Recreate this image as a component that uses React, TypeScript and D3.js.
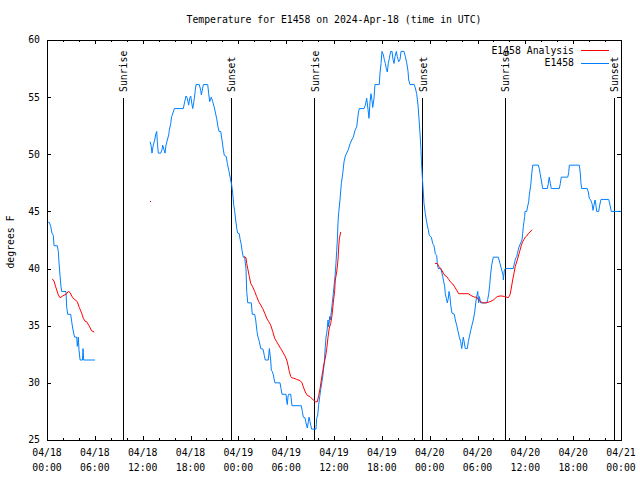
import React from 'react';
import * as d3 from 'd3';

const title = 'Temperature for E1458 on 2024-Apr-18 (time in UTC)';
const yAxisLabel = 'degrees F';
const xTickHours = [0, 6, 12, 18, 24, 30, 36, 42, 48, 54, 60, 66, 72];
const xTickDates = ['04/18', '04/18', '04/18', '04/18', '04/19', '04/19', '04/19', '04/19', '04/20', '04/20', '04/20', '04/20', '04/21'];
const xTickTimes = ['00:00', '06:00', '12:00', '18:00', '00:00', '06:00', '12:00', '18:00', '00:00', '06:00', '12:00', '18:00', '00:00'];
const yTicks = [25, 30, 35, 40, 45, 50, 55, 60];
const sunHours = [9.53, 23.08, 33.53, 47.08, 57.45, 71.12];
const sunLabels = ['Sunrise', 'Sunset', 'Sunrise', 'Sunset', 'Sunrise', 'Sunset'];
const seriesNames = ['E1458 Analysis', 'E1458'];
const seriesColors = ['#ff0000', '#0080ff'];

type P = [number, number];

// Observations (hours since 04/18 00:00 UTC, degrees F)
const obsSeg1: P[] = [
  [0.16, 44.05], [0.29, 44.05], [0.46, 43.7], [0.63, 43.1], [0.79, 42.9], [0.88, 42.0], [1.29, 42.0],
  [1.42, 41.5], [1.51, 40.5], [1.63, 39.4], [1.76, 38.4], [1.84, 38.0], [2.38, 38.0], [2.47, 36.6],
  [2.6, 36.0], [2.97, 36.0], [3.1, 35.35], [3.22, 34.8], [3.39, 34.2], [3.47, 34.0], [3.73, 34.0],
  [3.8, 33.2], [3.93, 34.0], [4.01, 32.9], [4.15, 32.0], [4.45, 32.0], [4.52, 33.0], [4.6, 32.0], [6.02, 32.0],
];

const obsSeg2: P[] = [
  [12.92, 51.1], [13.05, 50.8], [13.17, 50.1], [13.33, 50.8], [13.51, 51.25], [13.64, 51.75], [13.76, 52.0],
  [13.84, 51.1], [13.96, 50.1], [14.26, 50.1], [14.43, 50.4], [14.51, 50.8], [14.68, 50.4], [14.8, 50.1],
  [14.93, 50.8], [15.09, 51.25], [15.27, 51.7], [15.34, 52.1], [15.52, 52.7], [15.64, 53.3], [15.84, 53.7],
  [15.97, 54.0], [17.1, 54.0], [17.27, 54.6], [17.44, 55.1], [17.6, 54.9], [17.77, 54.3], [17.9, 54.9],
  [18.03, 55.1], [18.15, 54.5], [18.28, 54.0], [18.4, 54.5], [18.48, 54.9], [18.6, 55.6], [18.69, 56.1],
  [19.1, 56.1], [19.28, 55.6], [19.36, 55.2], [19.48, 55.6], [19.61, 56.1], [20.16, 56.1], [20.28, 55.3],
  [20.41, 54.6], [20.53, 54.9], [20.61, 55.0], [20.79, 54.6], [20.95, 54.2], [21.11, 53.7], [21.29, 53.1],
  [21.45, 52.4], [21.58, 52.0], [21.79, 52.0], [21.95, 51.25], [22.12, 50.4], [22.24, 49.9], [22.49, 49.8],
  [22.62, 49.2], [22.83, 48.5], [23.04, 47.75], [23.17, 47.3], [23.29, 46.6], [23.42, 45.6], [23.54, 45.0],
  [23.67, 44.25], [23.8, 43.5], [23.92, 43.1], [24.12, 43.05], [24.21, 42.6], [24.34, 42.2], [24.46, 41.6],
  [24.62, 41.0], [24.8, 41.0], [24.87, 40.5], [24.96, 40.0], [25.05, 38.0], [25.18, 37.0], [25.63, 37.0],
  [25.75, 36.0], [26.05, 36.0], [26.18, 35.5], [26.34, 34.5], [26.47, 34.0], [26.63, 33.6], [26.81, 33.0],
  [27.09, 32.95], [27.26, 32.4], [27.38, 32.0], [27.76, 32.0], [27.89, 33.0], [28.06, 32.0], [28.14, 31.1],
  [28.26, 31.0], [28.39, 30.7], [28.51, 30.25], [28.6, 30.0], [29.23, 30.0], [29.35, 29.5], [29.48, 29.0],
  [29.98, 29.0], [30.07, 28.4], [30.14, 28.1], [30.23, 28.8], [30.32, 29.0], [30.57, 29.0], [30.65, 28.5],
  [30.73, 28.0], [31.9, 28.0], [32.03, 27.5], [32.15, 27.0], [32.36, 26.95], [32.49, 26.5], [32.65, 26.05],
  [32.78, 26.6], [32.87, 27.0], [32.99, 26.6], [33.08, 26.3], [33.2, 25.95], [33.74, 25.95], [33.83, 26.9],
  [33.96, 27.2], [34.08, 28.1], [34.21, 28.8], [34.33, 29.4], [34.46, 30.0], [34.58, 30.5], [34.71, 31.3],
  [34.78, 31.7], [34.91, 33.2], [35.0, 34.0], [35.12, 34.5], [35.25, 35.5], [35.34, 34.9], [35.46, 35.8],
  [35.54, 35.5], [35.66, 36.2], [35.79, 37.0], [35.91, 37.8], [36.04, 38.7], [36.13, 39.3], [36.25, 40.5],
  [36.34, 41.6], [36.42, 42.5], [36.5, 44.0], [36.59, 44.9], [36.75, 46.0], [36.92, 47.45], [37.09, 48.3],
  [37.26, 49.35], [37.42, 49.85], [37.59, 50.1], [37.79, 50.4], [38.01, 50.9], [38.22, 51.25], [38.42, 51.5],
  [38.64, 52.1], [38.85, 52.4], [39.05, 53.6], [39.17, 54.0], [39.76, 54.0], [39.93, 54.3], [40.1, 54.9],
  [40.27, 53.9], [40.39, 53.15], [40.52, 54.6], [40.64, 55.3], [40.77, 54.7], [40.86, 54.1], [41.02, 54.9],
  [41.14, 56.1], [41.68, 56.1], [41.77, 57.1], [41.9, 57.95], [42.02, 59.0], [42.19, 58.7], [42.31, 58.3],
  [42.44, 57.95], [42.56, 57.5], [42.69, 57.2], [42.81, 57.95], [42.94, 58.4], [43.11, 59.0], [43.28, 59.0],
  [43.4, 58.3], [43.53, 57.95], [43.65, 58.55], [43.82, 59.0], [43.94, 58.55], [44.12, 58.1], [44.28, 58.3],
  [44.41, 59.0], [44.78, 59.0], [44.95, 58.55], [45.12, 58.0], [45.28, 57.3], [45.37, 56.5], [45.53, 56.1],
  [46.07, 56.1], [46.2, 55.8], [46.37, 55.3], [46.54, 54.3], [46.66, 53.15], [46.79, 51.8], [46.91, 50.4],
  [47.0, 48.9], [47.13, 47.45], [47.29, 45.7], [47.45, 44.8], [47.58, 44.25], [47.7, 43.8], [47.83, 43.4],
  [47.95, 42.9], [48.21, 42.75], [48.38, 42.2], [48.54, 42.0], [48.71, 41.3], [48.88, 41.15], [48.96, 40.45],
  [49.08, 40.0], [49.39, 40.0], [49.51, 39.7], [49.64, 39.3], [49.76, 38.85], [49.89, 38.4], [49.96, 37.8],
  [50.09, 37.4], [50.21, 37.0], [50.34, 37.4], [50.43, 38.0], [50.55, 37.55], [50.64, 36.8], [50.8, 36.1],
  [51.09, 36.0], [51.22, 35.5], [51.39, 35.05], [51.56, 34.5], [51.72, 34.0], [51.89, 33.6], [52.02, 33.0],
  [52.14, 33.6], [52.22, 34.0], [52.35, 33.5], [52.47, 33.0], [52.72, 33.0], [52.85, 33.6], [52.97, 34.0],
  [53.15, 34.6], [53.31, 35.05], [53.47, 35.5], [53.65, 36.2], [53.78, 37.0], [53.9, 37.55], [54.03, 38.0],
  [54.15, 37.0], [54.23, 37.55], [54.4, 37.0], [55.16, 37.0], [55.28, 37.3], [55.41, 37.8], [55.53, 38.55],
  [55.66, 39.6], [55.78, 40.3], [55.98, 41.0], [56.61, 41.0], [56.82, 40.45], [56.99, 40.0], [57.21, 39.4],
  [57.24, 39.0], [57.37, 39.9], [57.54, 40.0], [58.49, 40.0], [58.67, 40.6], [58.79, 40.9], [58.92, 41.05],
  [58.99, 41.3], [59.21, 41.9], [59.42, 42.25], [59.58, 42.5], [59.67, 43.1], [59.75, 43.7], [59.83, 44.1],
  [59.92, 44.55], [59.96, 45.0], [60.17, 45.0], [60.25, 45.3], [60.42, 45.85], [60.5, 46.45], [60.68, 47.3],
  [60.8, 48.3], [60.93, 49.05], [61.63, 49.05], [61.75, 48.75], [61.88, 48.2], [62.0, 47.75], [62.18, 47.0],
  [62.76, 47.0], [62.88, 47.45], [63.0, 48.0], [63.13, 47.45], [63.26, 47.0], [64.26, 47.0], [64.39, 47.45],
  [64.51, 48.0], [65.32, 48.0], [65.44, 48.4], [65.52, 49.05], [66.77, 49.05], [66.9, 48.3], [66.98, 47.45],
  [67.07, 47.0], [67.77, 47.0], [67.9, 46.7], [68.02, 46.15], [68.2, 46.0], [68.36, 45.7], [68.49, 45.1],
  [68.61, 45.55], [68.74, 46.0], [68.86, 45.55], [68.95, 45.0], [69.2, 45.0], [69.33, 45.55], [69.49, 46.05],
  [70.46, 46.05], [70.62, 45.55], [70.78, 45.0], [72.0, 45.0],
];

// Analysis
const anaSeg1: P[] = [
  [0.66, 39.1], [0.88, 38.9], [1.09, 38.4], [1.42, 37.7], [1.63, 37.45], [1.97, 37.6], [2.47, 37.8],
  [2.67, 38.0], [2.89, 37.9], [3.22, 37.45], [3.64, 37.2], [3.8, 37.1], [4.05, 36.6], [4.35, 36.1],
  [4.55, 35.65], [4.77, 35.4], [4.98, 35.35], [5.27, 35.0], [5.61, 34.55], [5.93, 34.45],
];
const anaDot: P[] = [[12.86, 45.9]];
const anaSeg2: P[] = [
  [24.71, 41.05], [24.96, 40.95], [25.05, 40.45], [25.21, 39.9], [25.38, 39.3], [25.55, 38.7], [25.8, 38.4],
  [26.05, 38.0], [26.3, 37.55], [26.56, 37.1], [26.81, 36.8], [27.06, 36.5], [27.31, 36.1], [27.56, 35.65],
  [27.81, 35.35], [28.06, 35.05], [28.31, 34.5], [28.56, 33.9], [28.81, 33.6], [29.06, 33.3], [29.32, 33.0],
  [29.57, 32.7], [29.82, 32.4], [30.07, 32.0], [30.23, 31.55], [30.39, 31.0], [30.57, 30.55], [30.69, 30.45],
  [30.98, 30.4], [31.32, 30.3], [31.74, 30.2], [31.99, 30.0], [32.15, 29.65], [32.4, 29.2], [32.65, 28.9],
  [32.99, 28.8], [33.4, 28.5], [33.66, 28.35], [33.91, 28.35], [34.08, 28.9], [34.25, 29.5], [34.41, 30.25],
  [34.58, 31.0], [34.75, 31.7], [34.91, 32.15], [35.09, 33.0], [35.25, 34.0], [35.41, 34.8], [35.59, 35.2],
  [35.75, 35.9], [35.91, 37.0], [36.09, 38.1], [36.16, 39.0], [36.34, 39.7], [36.5, 40.75], [36.59, 41.9],
  [36.67, 42.6], [36.84, 43.2],
];
const anaSeg3: P[] = [
  [48.67, 40.45], [48.96, 40.45], [49.13, 40.2], [49.39, 40.0], [49.64, 39.7], [49.89, 39.4], [50.14, 39.3],
  [50.39, 39.05], [50.64, 38.8], [50.89, 38.65], [51.14, 38.4], [51.39, 38.1], [51.64, 37.8], [51.81, 37.8],
  [52.85, 37.8], [53.06, 37.7], [53.31, 37.6], [53.65, 37.5], [53.9, 37.5], [54.15, 37.25], [54.4, 37.1],
  [54.65, 37.0], [54.98, 37.0], [55.32, 37.05], [55.57, 37.1], [55.98, 37.25], [56.23, 37.4], [56.48, 37.55],
  [56.82, 37.6], [57.07, 37.6], [57.41, 37.55], [57.66, 37.5], [57.86, 37.45], [58.08, 37.7], [58.24, 38.3],
  [58.41, 39.0], [58.58, 39.6], [58.74, 40.2], [58.99, 40.75], [59.17, 41.2], [59.33, 41.6], [59.5, 42.05],
  [59.67, 42.35], [59.83, 42.55], [60.0, 42.75], [60.17, 42.85], [60.42, 43.1], [60.59, 43.2], [60.84, 43.4],
];

const obsSegments = [obsSeg1, obsSeg2];
const anaSegments = [anaSeg1, anaSeg2, anaSeg3];

const W = 640;
const H = 480;
const L = 47;
const R = 621;
const T = 40;
const B = 440;
const FONT = "'DejaVu Sans Mono', 'Liberation Mono', monospace";
const FS = 9.8;

export default function App() {
  const x = d3.scaleLinear().domain([0, 72]).range([L, R]);
  const y = d3.scaleLinear().domain([25, 60]).range([B, T]);
  const line = d3
    .line<P>()
    .x((d) => x(d[0]))
    .y((d) => y(d[1]));

  const minorHours = d3.range(0, 73, 2);
  const px = (v: number) => Math.round(v) + 0.5;

  return (
    <svg
      width={W}
      height={H}
      style={{ position: 'absolute', left: 0, top: 0, background: '#fff' }}
      fontFamily={FONT}
      fontSize={FS}
    >
      <rect x={0} y={0} width={W} height={H} fill="#fff" />
      {/* sun lines */}
      {sunHours.map((h, i) => (
        <g key={'sun' + i}>
          <line x1={px(x(h))} x2={px(x(h))} y1={98} y2={B} stroke="#000" strokeWidth={1} shapeRendering="crispEdges" />
          <text
            transform={`translate(${x(h) + 1},92) rotate(-90)`}
            textAnchor="start"
            dy="0.35em"
            fill="#000"
          >
            {sunLabels[i]}
          </text>
        </g>
      ))}
      {/* ticks */}
      {minorHours.map((h) => {
        const major = h % 6 === 0;
        const len = major ? 4 : 2;
        const xx = px(x(h));
        return (
          <g key={'xt' + h} shapeRendering="crispEdges" stroke="#000">
            <line x1={xx} x2={xx} y1={B} y2={B - len} />
            <line x1={xx} x2={xx} y1={T} y2={T + len} />
          </g>
        );
      })}
      {yTicks.map((v) => {
        const yy = px(y(v));
        return (
          <g key={'yt' + v} shapeRendering="crispEdges" stroke="#000">
            <line x1={L} x2={L + 4} y1={yy} y2={yy} />
            <line x1={R} x2={R - 4} y1={yy} y2={yy} />
          </g>
        );
      })}
      {/* tick labels */}
      {yTicks.map((v) => (
        <text key={'yl' + v} x={40} y={y(v)} dy="0.35em" textAnchor="end" fill="#000">
          {v}
        </text>
      ))}
      {xTickHours.map((h, i) => (
        <g key={'xl' + h}>
          <text x={x(h)} y={456} textAnchor="middle" fill="#000">
            {xTickDates[i]}
          </text>
          <text x={x(h)} y={471} textAnchor="middle" fill="#000">
            {xTickTimes[i]}
          </text>
        </g>
      ))}
      {/* data */}
      {obsSegments.map((seg, i) => (
        <path key={'obs' + i} d={line(seg) || ''} fill="none" stroke={seriesColors[1]} strokeWidth={1} />
      ))}
      {anaSegments.map((seg, i) => (
        <path key={'ana' + i} d={line(seg) || ''} fill="none" stroke={seriesColors[0]} strokeWidth={1} />
      ))}
      {anaDot.map((d, i) => (
        <rect key={'dot' + i} x={Math.round(x(d[0]))} y={Math.round(y(d[1]))} width={1} height={1} fill={seriesColors[0]} />
      ))}
      {/* border */}
      <rect x={L + 0.5} y={T + 0.5} width={R - L} height={B - T} fill="none" stroke="#000" strokeWidth={1} shapeRendering="crispEdges" />
      {/* legend */}
      {seriesNames.map((n, i) => (
        <g key={'lg' + i}>
          <text x={574} y={50.5 + i * 12.5} dy="0.35em" textAnchor="end" fill="#000">
            {n}
          </text>
          <line x1={581} x2={609} y1={50.5 + i * 12.5} y2={50.5 + i * 12.5} stroke={seriesColors[i]} strokeWidth={1} shapeRendering="crispEdges" />
        </g>
      ))}
      {/* title and axis label */}
      <text x={334} y={20} dy="0.35em" textAnchor="middle" fill="#000">
        {title}
      </text>
      <text transform={`translate(11,242) rotate(-90)`} textAnchor="middle" dy="0.35em" fill="#000">
        {yAxisLabel}
      </text>
    </svg>
  );
}
